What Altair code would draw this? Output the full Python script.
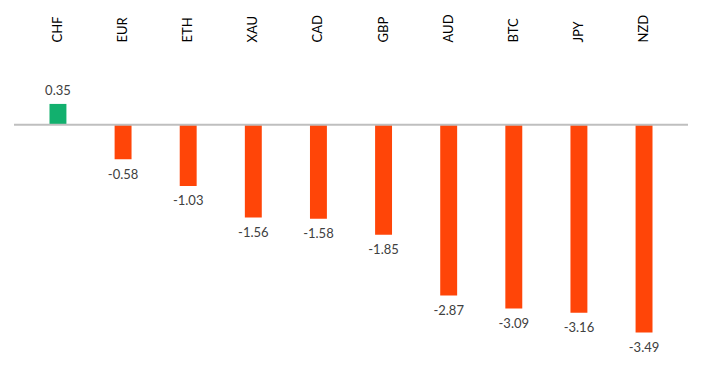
import altair as alt
import pandas as pd

currencies = ["CHF", "EUR", "ETH", "XAU", "CAD", "GBP", "AUD", "BTC", "JPY", "NZD"]
changes = [0.35, -0.58, -1.03, -1.56, -1.58, -1.85, -2.87, -3.09, -3.16, -3.49]

df = pd.DataFrame({"cur": currencies, "val": changes})
df["sign"] = ["pos" if v >= 0 else "neg" for v in df["val"]]
df["label"] = [f"{v:.2f}" for v in df["val"]]

FONT = "Lato"

x = alt.X("cur:N", sort=None,
          scale=alt.Scale(paddingInner=0.74, paddingOuter=0.545),
          axis=alt.Axis(orient="top", title=None, domain=False, ticks=False,
                        labelPadding=53, labelFont=FONT, labelFontSize=13,
                        labelColor="#000000"))
yscale = alt.Scale(domain=[-4.156, 0.5], nice=False)

base = alt.Chart(df)

bars = base.mark_bar().encode(
    x=x,
    y=alt.Y("val:Q", scale=yscale, axis=None),
    color=alt.Color("sign:N", scale=alt.Scale(domain=["pos", "neg"],
                                              range=["#12B06E", "#FF4508"]),
                    legend=None),
)

zero = alt.Chart(pd.DataFrame({"z": [0.0]})).mark_rule(
    color="#BFBFBF", strokeWidth=2
).encode(y=alt.Y("z:Q", scale=yscale, axis=None))

texts = base.transform_calculate(
    ly="datum.val >= 0 ? datum.val + 0.21 : datum.val - 0.26"
).mark_text(font=FONT, fontSize=13, color="#404040", baseline="middle").encode(
    x=x,
    y=alt.Y("ly:Q", scale=yscale, axis=None),
    text="label:N",
)

chart = alt.layer(bars, zero, texts).properties(
    width=686, height=369,
    autosize=alt.AutoSizeParams(type="fit", contains="padding"),
).configure_view(strokeWidth=0)

chart.save("out.html", embed_options={"renderer": "svg", "actions": False})
